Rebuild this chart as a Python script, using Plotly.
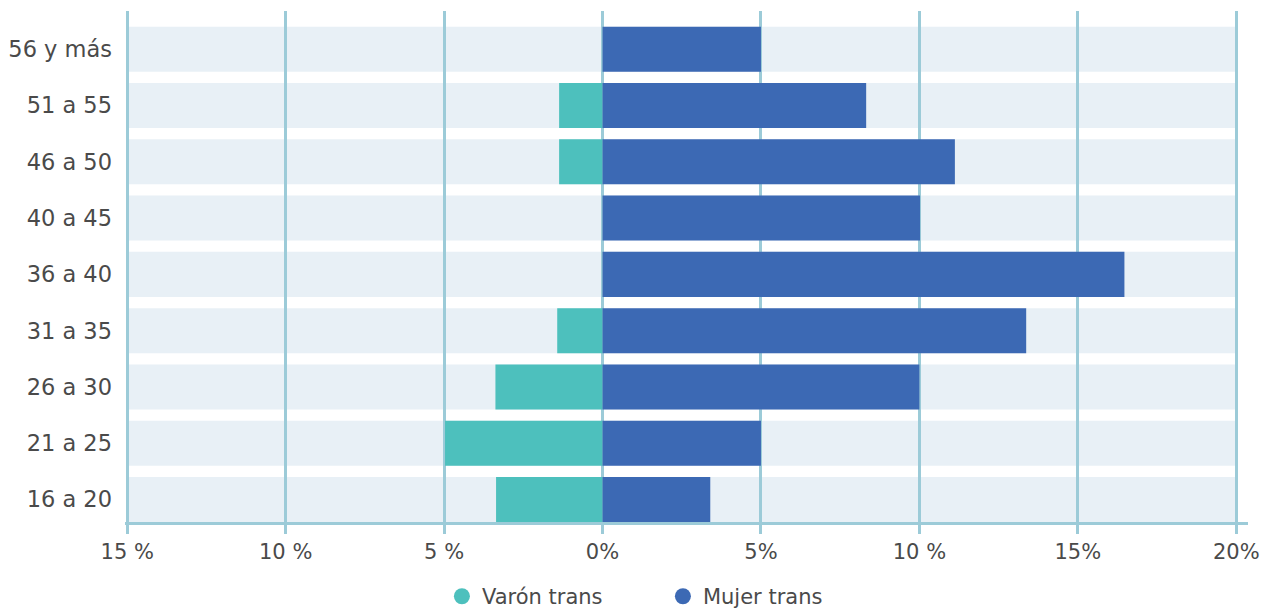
import plotly.graph_objects as go

# Categories listed bottom -> top
age_groups = ["16 a 20", "21 a 25", "26 a 30", "31 a 35", "36 a 40",
              "40 a 45", "46 a 50", "51 a 55", "56 y más"]
varon_trans = [3.36, 4.97, 3.38, 1.43, 0.0, 0.0, 1.37, 1.37, 0.0]
mujer_trans = [3.40, 5.00, 10.00, 13.37, 16.47, 10.02, 11.12, 8.32, 5.00]

tick_vals = [-15, -10, -5, 0, 5, 10, 15, 20]
tick_text = ["15 %", "10 %", "5 %", "0%", "5%", "10 %", "15%", "20%"]

TEAL = "#4dc0bd"
BLUE = "#3c69b4"
BAND = "#e8f0f6"
GRID = "#9ccbd8"
TEXT = "#4a4a4a"
FONT = "DejaVu Sans"

fig = go.Figure()

fig.add_trace(go.Bar(
    y=age_groups, x=[-v for v in varon_trans], orientation="h",
    marker=dict(color=TEAL, line=dict(width=0)), width=0.8,
    name="Varón trans", showlegend=False,
))
fig.add_trace(go.Bar(
    y=age_groups, x=mujer_trans, orientation="h",
    marker=dict(color=BLUE, line=dict(width=0)), width=0.8,
    name="Mujer trans", showlegend=False,
))

# legend entries with round markers
for name, col in [("Varón trans", TEAL), ("Mujer trans", BLUE)]:
    fig.add_trace(go.Scatter(
        x=[None], y=[None], mode="markers", name=name,
        marker=dict(symbol="circle", size=17, color=col),
    ))

# background bands per category
for i, _ in enumerate(age_groups):
    fig.add_shape(type="rect", xref="x", yref="y",
                  x0=tick_vals[0], x1=tick_vals[-1], y0=i - 0.4, y1=i + 0.4,
                  fillcolor=BAND, line=dict(width=0), layer="below")

fig.update_layout(
    width=1263, height=611,
    margin=dict(l=125, r=15, t=11, b=89, autoexpand=False),
    plot_bgcolor="white", paper_bgcolor="white",
    barmode="overlay",
    font=dict(family=FONT, size=20, color=TEXT),
    showlegend=True,
    legend=dict(orientation="h", x=0.479, xanchor="center", y=-0.146, yanchor="middle",
                font=dict(size=21, color=TEXT), itemsizing="trace",
                entrywidth=176, bgcolor="rgba(0,0,0,0)"),
)
fig.update_xaxes(
    range=[-15.07, 20.37], tickvals=tick_vals, ticktext=tick_text,
    automargin=False,
    showgrid=True, gridcolor=GRID, gridwidth=2.5,
    zeroline=True, zerolinecolor=GRID, zerolinewidth=2.5,
    showline=True, linecolor=GRID, linewidth=3,
    ticks="outside", ticklen=9, tickwidth=2.5, tickcolor=GRID,
    ticklabelstandoff=0,
    tickfont=dict(size=21, color=TEXT),
)
fig.update_yaxes(
    type="category", categoryorder="array", categoryarray=age_groups,
    automargin=False,
    range=[-0.4, 8.68], showgrid=False, zeroline=False, showline=False,
    ticks="", ticklabelstandoff=12, tickfont=dict(size=22.5, color=TEXT),
)

fig.write_html("out.html",
               config={"displayModeBar": False},
               post_script="document.body.style.margin='0';document.body.style.overflow='hidden';")
